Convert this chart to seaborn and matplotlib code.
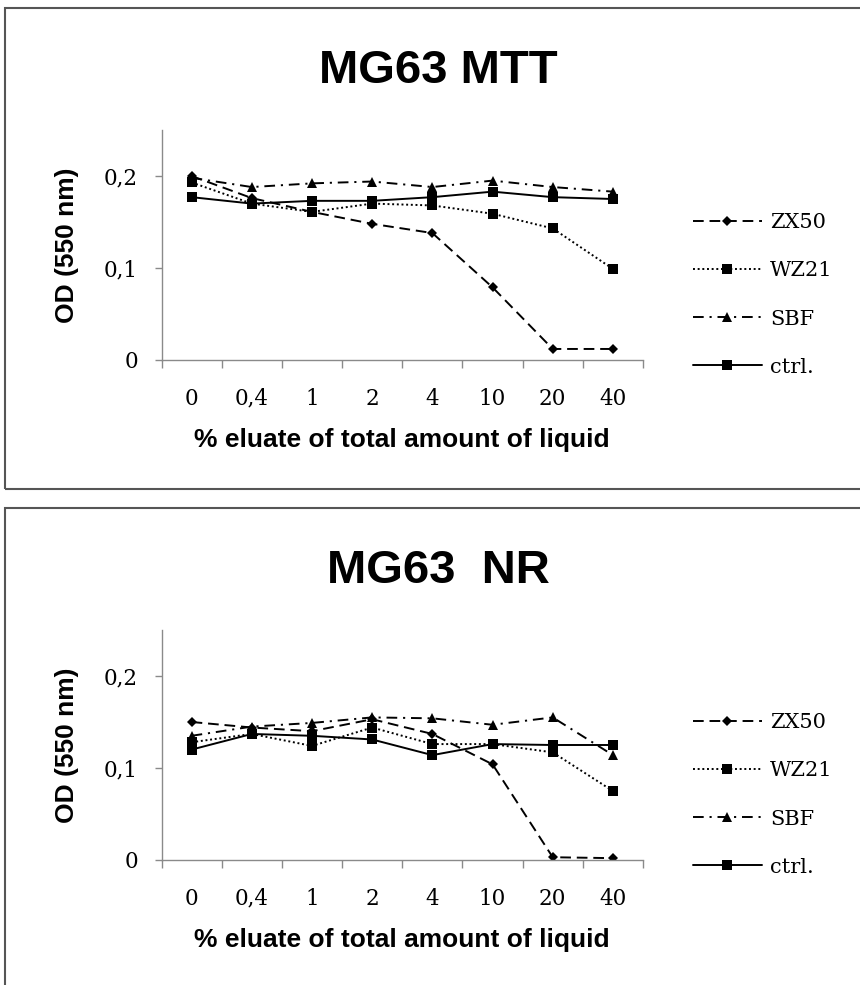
import numpy as np
import pandas as pd
import matplotlib
matplotlib.use("Agg")
import matplotlib.pyplot as plt
import seaborn as sns
from matplotlib.patches import Rectangle
from matplotlib.ticker import FixedLocator, FixedFormatter

# ---------------- data ----------------
categories = ["0", "0,4", "1", "2", "4", "10", "20", "40"]
series = ["ZX50", "WZ21", "SBF", "ctrl."]

mtt_zx50 = [0.200, 0.176, 0.161, 0.148, 0.138, 0.079, 0.012, 0.012]
mtt_wz21 = [0.193, 0.170, 0.161, 0.170, 0.168, 0.159, 0.143, 0.099]
mtt_sbf = [0.198, 0.188, 0.192, 0.194, 0.188, 0.195, 0.188, 0.183]
mtt_ctrl = [0.177, 0.170, 0.173, 0.173, 0.177, 0.183, 0.177, 0.175]

nr_zx50 = [0.150, 0.144, 0.140, 0.153, 0.137, 0.104, 0.003, 0.002]
nr_wz21 = [0.128, 0.137, 0.124, 0.144, 0.126, 0.126, 0.117, 0.075]
nr_sbf = [0.135, 0.145, 0.149, 0.155, 0.154, 0.147, 0.155, 0.114]
nr_ctrl = [0.120, 0.137, 0.135, 0.131, 0.114, 0.126, 0.125, 0.125]

y_ticks = [0.0, 0.1, 0.2]
y_tick_labels = ["0", "0,1", "0,2"]

panels = [
    ("MG63 MTT", [mtt_zx50, mtt_wz21, mtt_sbf, mtt_ctrl]),
    ("MG63  NR", [nr_zx50, nr_wz21, nr_sbf, nr_ctrl]),
]

# ---------------- style ----------------
sns.set_style("white")
plt.rcParams["font.family"] = ["DejaVu Serif"]
plt.rcParams["axes.linewidth"] = 1.0
plt.rcParams["text.color"] = "black"
plt.rcParams["axes.labelcolor"] = "black"
plt.rcParams["xtick.color"] = "black"
plt.rcParams["ytick.color"] = "black"

W, H = 860, 985
fig = plt.figure(figsize=(W / 100, H / 100), dpi=100)

SANS = ["Liberation Sans", "DejaVu Sans"]
SERIF = ["DejaVu Serif"]
GRAY = "#8a8a8a"

markers = {"ZX50": "D", "WZ21": "s", "SBF": "^", "ctrl.": "s"}
dashes = {"ZX50": (5.5, 3.0), "WZ21": (1.0, 1.4), "SBF": (5.5, 3.0, 1.1, 3.0), "ctrl.": ""}
msizes = {"ZX50": 5.5, "WZ21": 7, "SBF": 7.5, "ctrl.": 7}

def px(x):
    return x / W

def py(y):
    return 1 - y / H

for i, (title, vals) in enumerate(panels):
    off = 500 * i
    # panel frame
    fig.patches.append(Rectangle((px(5), py(489 + off) if i == 0 else py(1000)),
                                 px(900), (481 if i == 0 else 492) / H,
                                 transform=fig.transFigure, fill=False,
                                 edgecolor="#555555", lw=1.5))
    ax = fig.add_axes([px(161.5), py(360 + off), 481.5 / W, 230 / H])

    df = pd.DataFrame({
        "x": np.tile(np.arange(len(categories)), len(series)),
        "OD": np.concatenate(vals),
        "series": np.repeat(series, len(categories)),
    })
    sns.lineplot(data=df, x="x", y="OD", hue="series", style="series",
                 hue_order=series, style_order=series,
                 palette=["black"] * 4, markers=markers, dashes=dashes,
                 markeredgewidth=0, linewidth=1.4, legend=False, ax=ax)
    for ln, s in zip(ax.lines[:4], series):
        ln.set_markersize(msizes[s])
        ln.set_markeredgecolor("black")
        ln.set_markerfacecolor("black")

    ax.set_xlim(-0.5, len(categories) - 0.5)
    ax.set_ylim(0, 0.25)
    for sp in ["top", "right"]:
        ax.spines[sp].set_visible(False)
    for sp in ["left", "bottom"]:
        ax.spines[sp].set_color(GRAY)
        ax.spines[sp].set_linewidth(1.0)

    ax.yaxis.set_major_locator(FixedLocator(y_ticks))
    ax.yaxis.set_major_formatter(FixedFormatter(y_tick_labels))
    ax.xaxis.set_major_locator(FixedLocator(np.arange(len(categories))))
    ax.xaxis.set_major_formatter(FixedFormatter(categories))
    ax.xaxis.set_minor_locator(FixedLocator(np.arange(len(categories) + 1) - 0.5))

    ax.tick_params(axis="y", which="major", direction="out", length=5, width=1.0,
                   color=GRAY, labelcolor="black", pad=12, labelsize=15.5, left=True)
    ax.tick_params(axis="x", which="major", length=0, pad=20, labelsize=15.5,
                   labelcolor="black", bottom=True)
    ax.tick_params(axis="x", which="minor", direction="out", length=6, width=1.0,
                   color=GRAY, bottom=True)
    for lab in ax.get_xticklabels() + ax.get_yticklabels():
        lab.set_family(SERIF)

    ax.set_ylabel("OD (550 nm)", family=SANS, fontweight="bold", fontsize=19,
                  va="center", color="black")
    ax.yaxis.set_label_coords((67 - 161.5) / 481.5, 0.5)
    ax.set_xlabel("% eluate of total amount of liquid", family=SANS, fontweight="bold",
                  fontsize=19, va="baseline", color="black")
    ax.xaxis.set_label_coords(0.5, (360 - 447) / 230)

    fig.text(px(438), py(83 + off), title, family=SANS, fontweight="bold",
             fontsize=34, ha="center", va="baseline", color="black")

    leg = ax.legend(ax.lines[:4], series, loc="center left",
                    bbox_to_anchor=((693 - 161.5) / 481.5, (360 - 295) / 230),
                    frameon=False, borderaxespad=0, borderpad=0,
                    handlelength=3.3, handletextpad=0.4, labelspacing=1.4,
                    prop={"family": SERIF, "size": 15})
    for t in leg.get_texts():
        t.set_color("black")

fig.savefig("out.png", dpi=100)
